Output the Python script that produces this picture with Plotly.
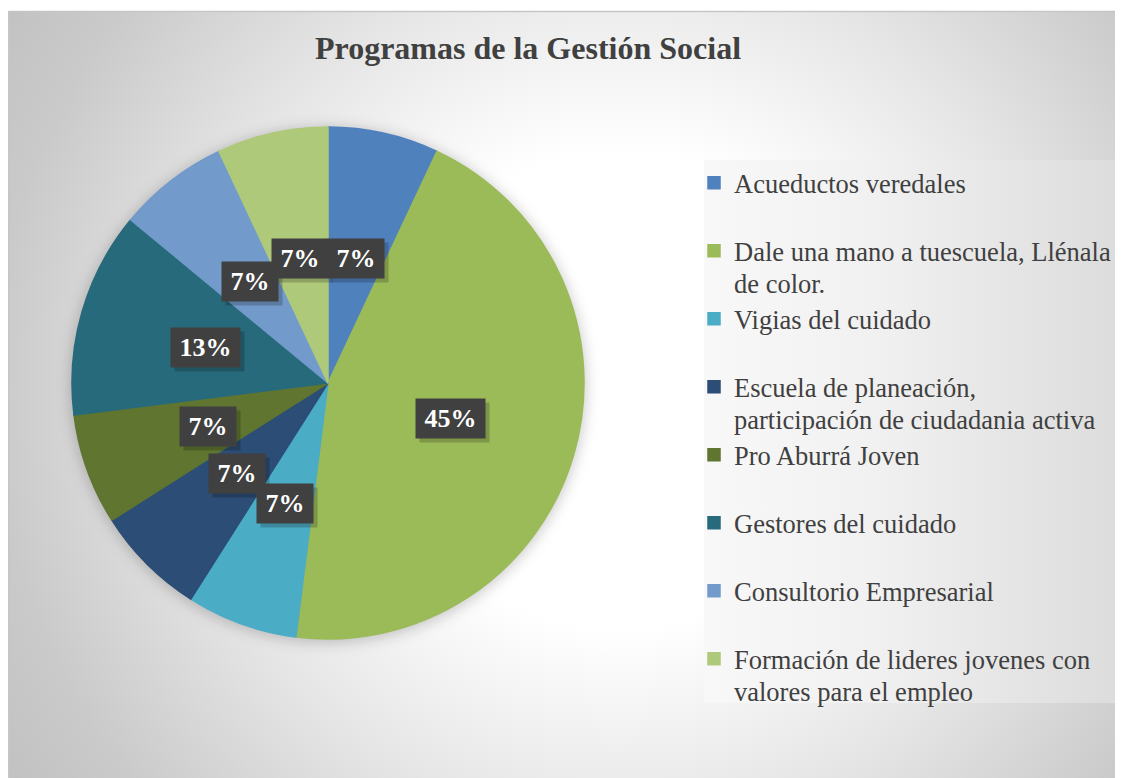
import base64
import math
import plotly.graph_objects as go

# ---------------- data ----------------
categories = [
    "Acueductos veredales",
    "Dale una mano a tuescuela, Llénala<br>de color.",
    "Vigias del cuidado",
    "Escuela de planeación,<br>participación de ciudadania activa",
    "Pro Aburrá Joven",
    "Gestores del cuidado",
    "Consultorio Empresarial",
    "Formación de lideres jovenes con<br>valores para el empleo",
]
values = [7, 45, 7, 7, 7, 13, 7, 7]
colors = ["#4F81BD", "#9BBB59", "#4BACC6", "#2C4D75",
          "#5F7530", "#276A7C", "#729ACA", "#AFC97A"]
title_text = "Programas de la Gestión Social"

# ---------------- layout constants (page pixels) ----------------
OFF = 8                      # body margin of the html page
W, H = 1123 - OFF, 778 - OFF  # figure size
PIE_CX, PIE_CY, PIE_R = 328, 383, 256
SERIF = "Liberation Serif, Times New Roman, serif"
TXT = "#404040"
LEG_X, LEG_Y, LEG_W, LEG_H = 704, 160, 418, 543


def fx(px):
    return (px - OFF) / W


def fy(py):
    return 1 - (py - OFF) / H


dom_x = [fx(PIE_CX - PIE_R), fx(PIE_CX + PIE_R)]
dom_y = [fy(PIE_CY + PIE_R), fy(PIE_CY - PIE_R)]


def legend_label(c):
    lines = c.split("<br>")
    if len(lines) == 1:
        lines.append(" ")  # pad to two lines so entries are evenly spaced
    return "<br>".join(f'<span style="font-size:26.5px">{ln}</span>' for ln in lines)


legend_labels = [legend_label(c) for c in categories]

fig = go.Figure()
fig.add_trace(go.Pie(
    labels=legend_labels,
    values=values,
    sort=False,
    direction="clockwise",
    rotation=0,
    textinfo="none",
    hoverinfo="percent",
    marker=dict(colors=colors, line=dict(color=colors, width=1.5)),
    domain=dict(x=dom_x, y=dom_y),
))

# ---------------- data labels (boxes) ----------------
total = sum(values)
cum = 0.0
annotations = []
shadows = []
LBL_FS = 26
for v in values:
    mid = (cum + v / 2) / total * 2 * math.pi
    cum += v
    px = PIE_CX + 0.5 * PIE_R * math.sin(mid)
    py = PIE_CY - 0.5 * PIE_R * math.cos(mid)
    txt = f"{round(v / total * 100)}%"
    ndig = len(txt) - 1
    bw = LBL_FS * (0.5 * ndig + 1.0) + 17
    shadows.append(dict(
        x=fx(px + 4), y=fy(py + 4), xref="paper", yref="paper",
        text=" ", showarrow=False, width=bw, height=39, borderpad=0,
        bgcolor="rgba(0,0,0,0.2)", xanchor="center", yanchor="middle",
        font=dict(size=LBL_FS, family=SERIF),
    ))
    annotations.append(dict(
        x=fx(px), y=fy(py), xref="paper", yref="paper",
        text=txt, showarrow=False, width=bw, height=39, borderpad=0,
        bgcolor="#404040", xanchor="center", yanchor="middle",
        align="center", valign="middle",
        font=dict(size=LBL_FS, family=SERIF, color="#ffffff", weight="bold"),
    ))

# ---------------- background (gradient, shadow, legend panel) ----------------
svg = f'''<svg xmlns="http://www.w3.org/2000/svg" width="{W}" height="{H}" viewBox="0 0 {W} {H}">
<defs>
<radialGradient id="bg" gradientUnits="userSpaceOnUse" cx="{620 - OFF}" cy="{390 - OFF}" r="720">
<stop offset="0" stop-color="#ffffff"/>
<stop offset="0.33" stop-color="#ffffff"/>
<stop offset="0.6" stop-color="#e6e6e6"/>
<stop offset="0.87" stop-color="#cacaca"/>
<stop offset="1" stop-color="#c2c2c2"/>
</radialGradient>
<linearGradient id="lg" x1="0" y1="0" x2="1" y2="0">
<stop offset="0" stop-color="#f8f8f8"/>
<stop offset="0.4" stop-color="#f1f1f1"/>
<stop offset="1" stop-color="#dcdcdc"/>
</linearGradient>
<filter id="blur" x="-20%" y="-20%" width="140%" height="140%"><feGaussianBlur stdDeviation="7"/></filter>
</defs>
<rect width="{W}" height="{H}" fill="#ffffff"/>
<rect x="0.75" y="{11.5 - OFF}" width="{W - 1.5}" height="{H + 10}" fill="url(#bg)" stroke="#c6c6c6" stroke-width="1.5"/>
<circle cx="{PIE_CX - OFF}" cy="{PIE_CY - OFF + 2}" r="{PIE_R + 2}" fill="#000000" fill-opacity="0.2" filter="url(#blur)"/>
<rect x="{LEG_X - OFF}" y="{LEG_Y - OFF}" width="{LEG_W}" height="{LEG_H}" fill="url(#lg)"/>
</svg>'''
svg_uri = "data:image/svg+xml;base64," + base64.b64encode(svg.encode("utf-8")).decode("ascii")

fig.update_layout(
    width=W, height=H,
    margin=dict(l=0, r=0, t=0, b=0, autoexpand=False),
    paper_bgcolor="#ffffff",
    plot_bgcolor="rgba(0,0,0,0)",
    images=[dict(source=svg_uri, xref="paper", yref="paper", x=0, y=1,
                 sizex=1, sizey=1, xanchor="left", yanchor="top",
                 sizing="stretch", layer="below")],
    title=dict(text=title_text, x=fx(528), xanchor="center",
               y=fy(48), yanchor="middle", xref="paper", yref="paper",
               font=dict(family=SERIF, size=32, color=TXT, weight="bold")),
    legend=dict(x=fx(LEG_X - 10), y=fy(LEG_Y), xanchor="left", yanchor="top",
                bgcolor="rgba(0,0,0,0)", borderwidth=0, valign="top",
                traceorder="normal",
                font=dict(family=SERIF, size=25, color=TXT)),
    showlegend=True,
    annotations=shadows + annotations,
)

fig.write_html("out.html")
